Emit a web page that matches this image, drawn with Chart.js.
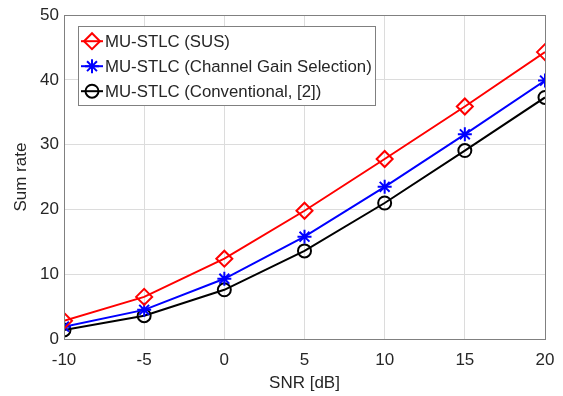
<!DOCTYPE html>
<html>
<head>
<meta charset="utf-8">
<script src="https://cdn.jsdelivr.net/npm/chart.js@4"></script>
<style>
    html, body { margin: 0; padding: 0; background: #fff; }
    #wrap { width: 563px; height: 396px; }
</style>
</head>
<body>
<div id="wrap"><canvas id="chart" width="563" height="396"></canvas></div>
<script>
// Données
const snr = [-10, -5, 0, 5, 10, 15, 20];
const sus = [2.8, 6.5, 12.4, 19.8, 27.8, 35.9, 44.3];
const gainSel = [1.9, 4.5, 9.3, 15.8, 23.5, 31.6, 39.9];
const conventional = [1.4, 3.6, 7.6, 13.6, 21.0, 29.1, 37.3];

const seriesLabels = [
    'MU-STLC (SUS)',
    'MU-STLC (Channel Gain Selection)',
    'MU-STLC (Conventional, [2])'
];

const FONT = 'Liberation Sans, Arial, Helvetica, sans-serif';

function points(values) {
    return snr.map((x, i) => ({ x: x, y: values[i] }));
}

// Cadre complet autour de la zone de tracé (style MATLAB)
const boxPlugin = {
    id: 'box',
    afterDatasetsDraw(chart) {
        const { ctx, chartArea: a } = chart;
        ctx.save();
        ctx.strokeStyle = '#808080';
        ctx.lineWidth = 1;
        ctx.strokeRect(Math.round(a.left) + 0.5, Math.round(a.top) + 0.5,
            Math.round(a.right - a.left), Math.round(a.bottom - a.top));
        ctx.restore();
    }
};

// Légende dessinée dans la zone de tracé
const legendPlugin = {
    id: 'innerLegend',
    afterDraw(chart) {
        const { ctx, chartArea: a } = chart;
        const x0 = a.left + 14, y0 = a.top + 11;
        const rowH = 25;
        ctx.save();
        ctx.font = '16.8px ' + FONT;
        let maxW = 0;
        chart.data.datasets.forEach(ds => { maxW = Math.max(maxW, ctx.measureText(ds.label).width); });
        const w = 27 + maxW + 3;
        const h = rowH * chart.data.datasets.length + 4;
        ctx.fillStyle = '#fff';
        ctx.fillRect(x0, y0, w, h);
        ctx.strokeStyle = '#808080';
        ctx.lineWidth = 1;
        ctx.strokeRect(Math.round(x0) + 0.5, Math.round(y0) + 0.5, Math.round(w), Math.round(h));
        chart.data.datasets.forEach((ds, i) => {
            const cy = y0 + 15 + i * rowH;
            ctx.strokeStyle = ds.borderColor;
            ctx.lineWidth = 2;
            ctx.beginPath();
            ctx.moveTo(x0 + 3, cy);
            ctx.lineTo(x0 + 25, cy);
            ctx.stroke();
            ctx.fillStyle = 'rgba(0,0,0,0)';
            ctx.strokeStyle = ds.pointBorderColor;
            ctx.lineWidth = ds.pointBorderWidth;
            Chart.helpers.drawPoint(ctx, {
                pointStyle: ds.pointStyle,
                radius: ds.pointRadius,
                rotation: 0,
                borderWidth: ds.pointBorderWidth
            }, x0 + 14, cy);
            ctx.fillStyle = '#262626';
            ctx.textBaseline = 'middle';
            ctx.fillText(ds.label, x0 + 27, cy + 1);
        });
        ctx.restore();
    }
};

new Chart(document.getElementById('chart'), {
    type: 'line',
    data: {
        datasets: [
            {
                label: seriesLabels[0],
                data: points(sus),
                borderColor: '#ff0000',
                backgroundColor: 'transparent',
                borderWidth: 2,
                pointStyle: 'rectRot',
                pointRadius: 8,
                pointBorderWidth: 2,
                pointBackgroundColor: 'transparent',
                pointBorderColor: '#ff0000'
            },
            {
                label: seriesLabels[1],
                data: points(gainSel),
                borderColor: '#0000ff',
                backgroundColor: 'transparent',
                borderWidth: 2,
                pointStyle: 'star',
                pointRadius: 7,
                pointBorderWidth: 2,
                pointBackgroundColor: 'transparent',
                pointBorderColor: '#0000ff'
            },
            {
                label: seriesLabels[2],
                data: points(conventional),
                borderColor: '#000000',
                backgroundColor: 'transparent',
                borderWidth: 2,
                pointStyle: 'circle',
                pointRadius: 6.5,
                pointBorderWidth: 2,
                pointBackgroundColor: 'transparent',
                pointBorderColor: '#000000'
            }
        ]
    },
    options: {
        responsive: false,
        animation: false,
        layout: { padding: { left: 0, right: 18, top: 14, bottom: 0 } },
        plugins: {
            legend: { display: false },
            tooltip: { enabled: false }
        },
        scales: {
            x: {
                type: 'linear',
                min: -10,
                max: 20,
                afterFit: (scale) => {
                    scale.height = 57;
                    scale.paddingLeft = 12;
                    scale.paddingRight = 10;
                },
                ticks: {
                    stepSize: 5,
                    color: '#262626',
                    font: { family: FONT, size: 17 },
                    padding: 11
                },
                grid: { color: '#dcdcdc', drawTicks: false },
                border: { display: false },
                title: {
                    display: true,
                    text: 'SNR [dB]',
                    color: '#262626',
                    font: { family: FONT, size: 17 },
                    padding: { top: 0, bottom: 2 }
                }
            },
            y: {
                min: 0,
                max: 50,
                afterFit: (scale) => { scale.width = 64; },
                ticks: {
                    stepSize: 10,
                    color: '#262626',
                    font: { family: FONT, size: 17 },
                    padding: 5
                },
                grid: { color: '#dcdcdc', drawTicks: false },
                border: { display: false },
                title: {
                    display: true,
                    text: 'Sum rate',
                    color: '#262626',
                    font: { family: FONT, size: 17 },
                    padding: { top: 11, bottom: 0 }
                }
            }
        }
    },
    plugins: [boxPlugin, legendPlugin]
});
</script>
</body>
</html>
